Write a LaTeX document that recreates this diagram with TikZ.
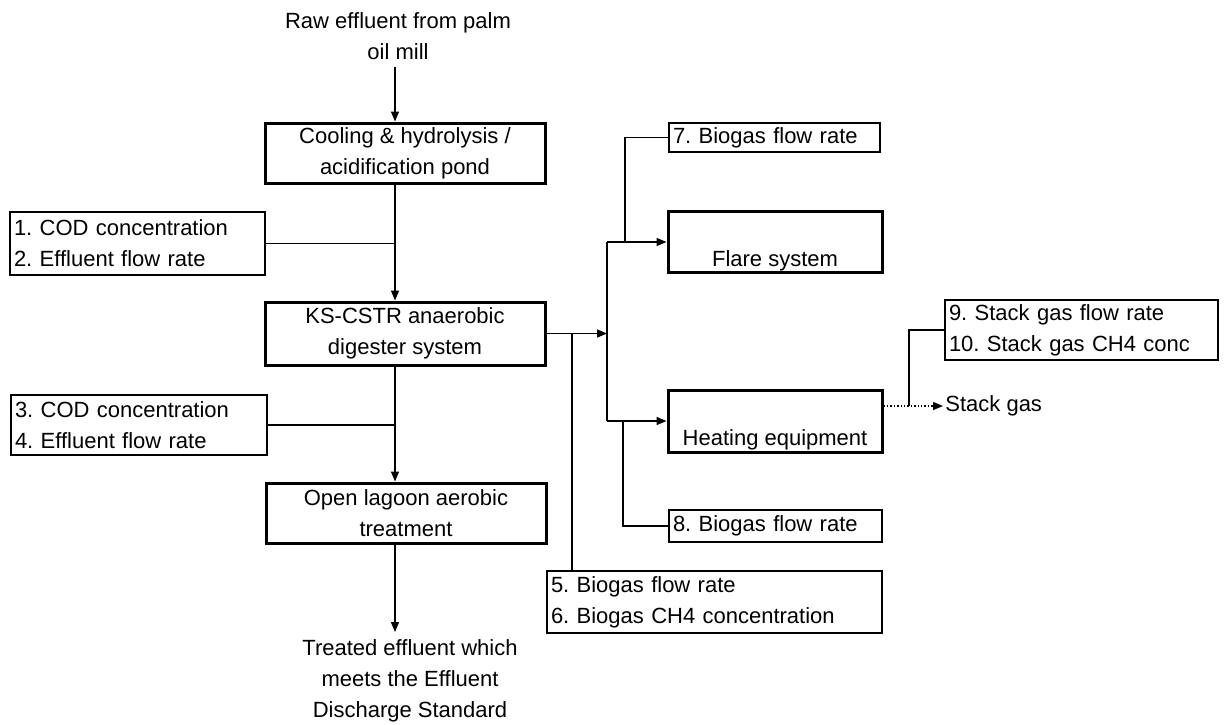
\documentclass[tikz,border=0pt]{standalone}
\usepackage{fontspec}
\setmainfont{Liberation Sans}
\usepackage{tikz}
\usetikzlibrary{arrows.meta,positioning,calc}
\frenchspacing

\begin{document}
\begin{tikzpicture}[
    x=0.5pt, y=-0.5pt,
    font=\fontsize{11}{15.5}\selectfont,
    unit/.style={
        draw, line width=1.5pt, minimum width=140pt, minimum height=30pt,
        align=center, inner sep=1pt
    },
    meas/.style={
        draw, line width=0.8pt, text width=#1, align=left,
        inner xsep=2pt, inner ysep=1pt
    },
    link/.style={line width=0.7pt},
    flow/.style={link, -{Triangle[length=5pt,width=4pt]}},
]
\useasboundingbox (0,0) rectangle (1224,724);

% Effluent line
\node[align=center] (raw) at (398,36) {Raw effluent from palm\\oil mill};
\node[unit] (cool) at (405,153) {Cooling \& hydrolysis /\\acidification pond};
\node[unit, minimum height=31.5pt] (ksc) at (405,333.5) {KS-CSTR anaerobic\\digester system};
\node[unit] (lagoon) at (406,513) {Open lagoon aerobic\\treatment};
\node[align=center, anchor=north] (treated) at (410,632) {Treated effluent which\\meets the Effluent\\Discharge Standard};

% Effluent measurements
\node[meas=123.5pt, minimum height=31.5pt] (cod1) at (137.5,243.5) {1. COD concentration\\2. Effluent flow rate};
\node[meas=124pt, minimum height=30pt] (cod2) at (139,425) {3. COD concentration\\4. Effluent flow rate};

% Biogas users
\node[unit, minimum width=107pt] (flare) at (775,242) {\strut\\Flare system};
\node[unit, minimum width=107pt, minimum height=31pt] (heat) at (775,421) {\strut\\Heating equipment};
\node[anchor=west, inner sep=1pt] (stack) at (943,406) {Stack gas};

% Biogas measurements
\node[meas=101.5pt, minimum height=14.5pt] (b7) at (774.5,137.5) {7. Biogas flow rate};
\node[meas=102.5pt, minimum height=16pt] (b8) at (775.5,526) {8. Biogas flow rate};
\node[meas=163.5pt, minimum height=31pt] (b56) at (714.5,602) {5. Biogas flow rate\\6. Biogas CH4 concentration};
\node[meas=132.5pt, minimum height=30pt] (b910) at (1081.5,330) {9. Stack gas flow rate\\10. Stack gas CH4 conc};

% Line positions
\coordinate (trunk) at (395,0);
\coordinate (bus) at (607,0);
\coordinate (tap56) at (572,0);
\coordinate (tap7) at (625,0);
\coordinate (tap8) at (623,0);
\coordinate (tap910) at (909,0);

% Arrows
\draw[flow] (raw.south -| trunk) -- (cool.north -| trunk);
\draw[flow] (cool.south -| trunk) -- (ksc.north -| trunk);
\draw[link] (cod1.east) -- (cod1.east -| trunk);
\draw[flow] (ksc.south -| trunk) -- (lagoon.north -| trunk);
\draw[link] (cod2.east) -- (cod2.east -| trunk);
\draw[flow] (lagoon.south -| trunk) -- (treated.north -| trunk);

\draw[flow] (ksc.east) -- (ksc.east -| bus);
\draw[link] (ksc.east -| tap56) -- (b56.north -| tap56);
\draw[link] (flare.west -| bus) -- (heat.west -| bus);
\draw[flow] (flare.west -| bus) -- (flare.west);
\draw[flow] (heat.west -| bus) -- (heat.west);
\draw[link] (flare.west -| tap7) |- (b7.west);
\draw[link] (heat.west -| tap8) |- (b8.west);

\draw[flow, densely dotted] (stack.west -| heat.east) -- (stack.west);
\draw[link] (stack.west -| tap910) |- (b910.west);
\end{tikzpicture}
\end{document}
